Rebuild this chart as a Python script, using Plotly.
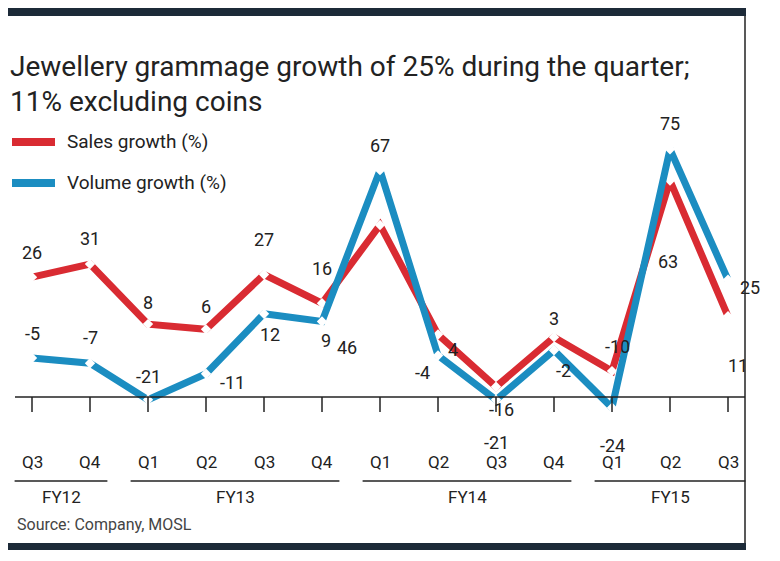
import plotly.graph_objects as go

quarters = ["Q3","Q4","Q1","Q2","Q3","Q4","Q1","Q2","Q3","Q4","Q1","Q2","Q3"]
years = [("FY12",0,1),("FY13",2,5),("FY14",6,9),("FY15",10,12)]
sales = [26,31,8,6,27,16,46,4,-16,3,-10,63,11]
volume = [-5,-7,-21,-11,12,9,67,-4,-21,-2,-24,75,25]
# label pixel offsets (dx, dy) relative to point
sales_off = [(0,25),(0,26),(0,22),(0,23),(0,35),(0,35),(-33,-123),(15,-15),(5,-23),(0,19),(5,25),(-2,-81),(10,-49)]
vol_off = [(0,25),(0,26),(0,23),(26,-9),(6,-21),(4,-19),(0,25),(-16,-17),(0,-43),(9,-20),(0,-38),(0,26),(22,-8)]

RED = "#d92b32"; BLUE = "#1b8dc1"
F = "Roboto, sans-serif"
OFF = 8  # page body margin
W, H = 780 - OFF, 561 - OFF
x = list(range(len(quarters)))
X0, DX = 32 - OFF, 58
Y0, DY = 345 - OFF, 2.61
xr = [(0-X0)/DX, (W-X0)/DX]
yr = [(Y0-H)/DY, (Y0-0)/DY]
def px(p): return xr[0] + (p-OFF)/DX
def py(p): return (Y0-(p-OFF))/DY

fig = go.Figure()
for vals, col in [(sales, RED), (volume, BLUE)]:
    fig.add_trace(go.Scatter(x=x, y=vals, mode="lines+markers",
        line=dict(color=col, width=7),
        marker=dict(symbol="diamond", size=8, color="white", line=dict(width=0)),
        showlegend=False, hoverinfo="skip"))

ann = []
for vals, offs in [(sales, sales_off), (volume, vol_off)]:
    for i, (v, (dx, dy)) in enumerate(zip(vals, offs)):
        ann.append(dict(x=i, y=v, text=str(v), showarrow=False, xshift=dx, yshift=dy,
                        font=dict(size=18, color="#222", family=F)))
for i, q in enumerate(quarters):
    ann.append(dict(x=i, y=py(462), text=q, showarrow=False, font=dict(size=17, color="#222", family=F)))
shapes = []
for name, a, b in years:
    ann.append(dict(x=(a+b)/2, y=py(497), text=name, showarrow=False, font=dict(size=17, color="#222", family=F)))
    shapes.append(dict(type="line", x0=a-0.3, x1=b+0.3, y0=py(481), y1=py(481), line=dict(color="#222", width=1.5)))
for i in x:
    shapes.append(dict(type="line", x0=i, x1=i, y0=py(397), y1=py(412), line=dict(color="#222", width=1.5)))
shapes.append(dict(type="line", x0=px(15), x1=px(745), y0=py(397), y1=py(397), line=dict(color="#222", width=1.5)))
shapes.append(dict(type="rect", x0=px(0), x1=px(746), y0=py(8), y1=py(16), fillcolor="#1c2a38", line=dict(width=0)))
shapes.append(dict(type="rect", x0=px(0), x1=px(746), y0=py(543), y1=py(550), fillcolor="#1c2a38", line=dict(width=0)))
shapes.append(dict(type="line", x0=px(745), x1=px(745), y0=py(16), y1=py(543), line=dict(color="#222", width=1.5)))
shapes.append(dict(type="line", x0=px(12), x1=px(55), y0=py(142), y1=py(142), line=dict(color=RED, width=8)))
shapes.append(dict(type="line", x0=px(12), x1=px(55), y0=py(183), y1=py(183), line=dict(color=BLUE, width=8)))
ann.append(dict(x=px(65), y=py(141), text="Sales growth (%)", showarrow=False, xanchor="left", font=dict(size=19, color="#222", family=F)))
ann.append(dict(x=px(65), y=py(182), text="Volume growth (%)", showarrow=False, xanchor="left", font=dict(size=19, color="#222", family=F)))
ann.append(dict(x=px(8), y=py(66), text="Jewellery grammage growth of 25% during the quarter;", showarrow=False, xanchor="left", font=dict(size=28, color="#222", family=F)))
ann.append(dict(x=px(8), y=py(101), text="11% excluding coins", showarrow=False, xanchor="left", font=dict(size=28, color="#222", family=F)))
ann.append(dict(x=px(15), y=py(524), text="Source: Company, MOSL", showarrow=False, xanchor="left", font=dict(size=16, color="#444", family=F)))

fig.update_layout(width=W, height=H, margin=dict(l=0, r=0, t=0, b=0),
    paper_bgcolor="white", plot_bgcolor="white",
    xaxis=dict(range=xr, visible=False), yaxis=dict(range=yr, visible=False),
    annotations=ann, shapes=shapes)
fig.write_html("out.html")
